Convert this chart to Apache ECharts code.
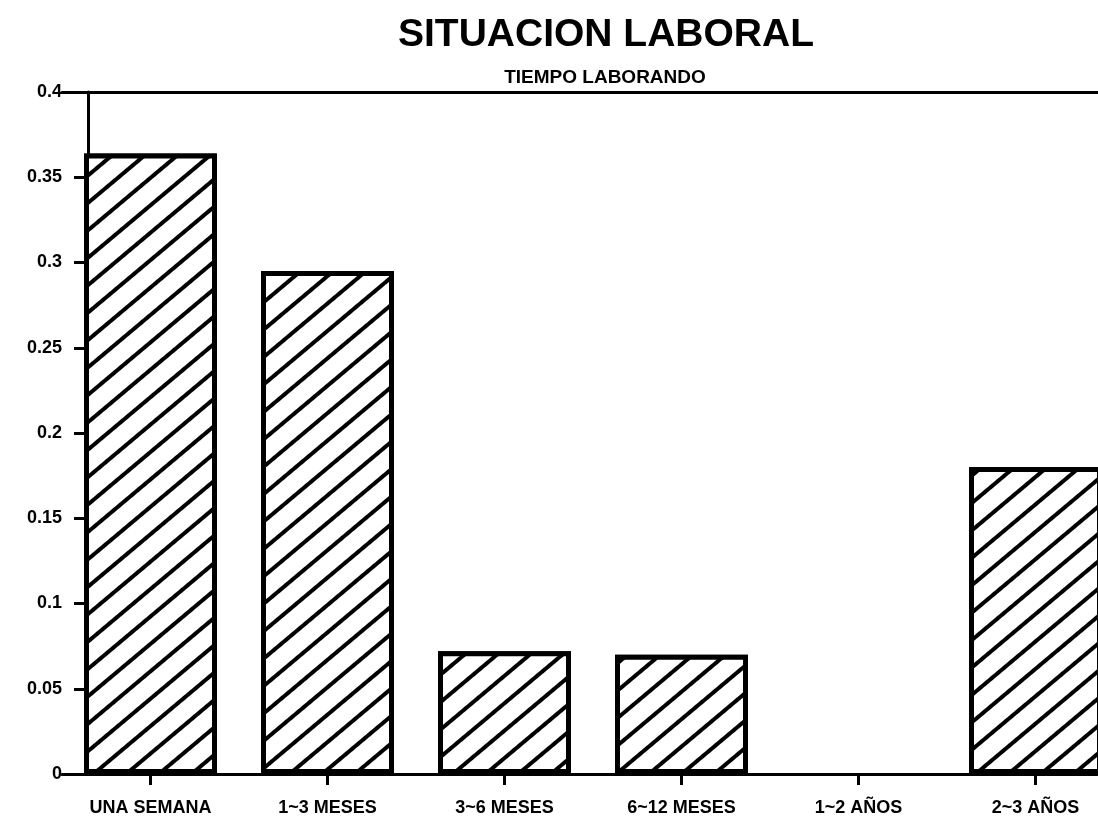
<!DOCTYPE html>
<html>
<head>
<meta charset="utf-8">
<script src="https://cdn.jsdelivr.net/npm/echarts@6/dist/echarts.min.js"></script>
<style>
  html, body { margin: 0; padding: 0; background: #fff; overflow: hidden; }
  /* el grafico original sigue mas alla del borde derecho */
  #chart { width: 1124px; height: 838px; }
</style>
</head>
<body>
<div id="chart"></div>
<script>
// datos
var categorias = ["UNA SEMANA", "1~3 MESES", "3~6 MESES", "6~12 MESES", "1~2 AÑOS", "2~3 AÑOS"];
var proporcion = [0.364, 0.295, 0.072, 0.070, 0, 0.18];
var yTicks = [0, 0.05, 0.1, 0.15, 0.2, 0.25, 0.3, 0.35, 0.4];

var fuente = "'Liberation Sans', Arial, sans-serif";
var myChart = echarts.init(document.getElementById("chart"));

var options = {
  backgroundColor: "#fff",
  animation: false,
  title: [
    {
      text: "SITUACION LABORAL",
      left: 601,
      top: 11,
      textAlign: "center",
      textStyle: { fontFamily: fuente, fontSize: 39, fontWeight: "bold", color: "#000" },
    },
    {
      text: "TIEMPO LABORANDO",
      left: 600,
      top: 63,
      textAlign: "center",
      textStyle: { fontFamily: fuente, fontSize: 19, fontWeight: "bold", color: "#000" },
    },
  ],
  grid: {
    left: 62,
    right: 0,
    top: 92,
    bottom: 64,
  },
  xAxis: [
    {
      type: "category",
      data: categorias,
      axisLine: { lineStyle: { color: "#000", width: 3 } },
      axisTick: { show: true, alignWithLabel: true, length: 11, lineStyle: { color: "#000", width: 3 } },
      axisLabel: {
        margin: 25,
        color: "#000",
        fontFamily: fuente,
        fontSize: 18,
        fontWeight: "bold",
      },
    },
    {
      type: "category",
      position: "top",
      data: categorias,
      axisLine: { lineStyle: { color: "#000", width: 3 } },
      axisTick: { show: false },
      axisLabel: { show: false },
    },
  ],
  yAxis: {
    type: "value",
    min: 0,
    max: 0.4,
    interval: 0.05,
    offset: -26,
    splitLine: { show: false },
    axisLine: { show: true, lineStyle: { color: "#000", width: 3 } },
    axisTick: { show: true, length: 14, lineStyle: { color: "#000", width: 3 } },
    axisLabel: {
      margin: 26,
      color: "#000",
      fontFamily: fuente,
      fontSize: 18,
      fontWeight: "bold",
      formatter: function (v) {
        var t = yTicks.find(function (k) { return Math.abs(k - v) < 1e-9; });
        return t === undefined ? "" : String(t);
      },
    },
  },
  series: [
    {
      type: "bar",
      data: proporcion.map(function (v) {
        // sin borde para la barra vacia
        return v === 0 ? { value: v, itemStyle: { borderWidth: 0 } } : v;
      }),
      barWidth: 133,
      itemStyle: {
        color: "#fff",
        borderColor: "#000",
        borderWidth: 5,
        decal: {
          symbol: "rect",
          symbolSize: 1,
          color: "#000",
          backgroundColor: "#fff",
          dashArrayX: [1, 0],
          dashArrayY: [4, 17],
          rotation: -40 * Math.PI / 180,
        },
      },
    },
  ],
};
myChart.setOption(options);
</script>
</body>
</html>
